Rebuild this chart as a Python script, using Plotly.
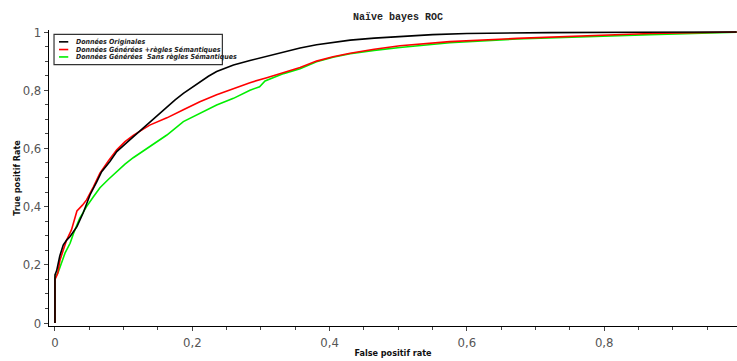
import plotly.graph_objects as go

# ROC curves: false positive rate / true positive rate for each dataset
fpr_orig = [0.0, 0.0, 0.0025, 0.007, 0.012, 0.017, 0.022, 0.032, 0.041, 0.051, 0.061,
            0.068, 0.08, 0.09, 0.109, 0.125, 0.138, 0.15, 0.163, 0.175, 0.187, 0.2,
            0.211, 0.2235, 0.2355, 0.248, 0.26, 0.284, 0.31, 0.3326, 0.357, 0.381,
            0.405, 0.43, 0.465, 0.5025, 0.55, 0.60, 0.66, 0.721, 0.85, 0.993]
tpr_orig = [0.0, 0.165, 0.18, 0.23, 0.268, 0.285, 0.297, 0.331, 0.378, 0.44, 0.486,
            0.52, 0.555, 0.589, 0.629, 0.662, 0.69, 0.716, 0.743, 0.767, 0.789, 0.81,
            0.829, 0.848, 0.864, 0.877, 0.887, 0.902, 0.918, 0.932, 0.945, 0.956,
            0.965, 0.972, 0.979, 0.985, 0.991, 0.995, 0.997, 0.998, 0.999, 1.0]

fpr_regles = [0.0, 0.0, 0.004, 0.0073, 0.012, 0.017, 0.024, 0.028, 0.032, 0.04, 0.046,
              0.056, 0.0655, 0.078, 0.09, 0.102, 0.114, 0.138, 0.163, 0.187, 0.211,
              0.2355, 0.26, 0.284, 0.3085, 0.333, 0.357, 0.381, 0.405, 0.43, 0.465,
              0.5025, 0.575, 0.673, 0.77, 0.867, 0.993]
tpr_regles = [0.0, 0.15, 0.17, 0.216, 0.25, 0.285, 0.32, 0.355, 0.385, 0.405, 0.423,
              0.468, 0.515, 0.558, 0.595, 0.623, 0.645, 0.68, 0.705, 0.733, 0.76,
              0.784, 0.806, 0.826, 0.843, 0.86, 0.878, 0.9, 0.915, 0.927, 0.941,
              0.953, 0.967, 0.978, 0.987, 0.995, 1.0]

fpr_sans = [0.0, 0.0, 0.005, 0.0097, 0.0146, 0.022, 0.027, 0.036, 0.046, 0.056, 0.0655,
            0.078, 0.09, 0.102, 0.114, 0.138, 0.163, 0.187, 0.211, 0.2355, 0.26,
            0.284, 0.298, 0.306, 0.333, 0.357, 0.381, 0.405, 0.43, 0.465, 0.5025,
            0.575, 0.673, 0.77, 0.867, 0.993]
tpr_sans = [0.0, 0.155, 0.176, 0.205, 0.24, 0.274, 0.308, 0.36, 0.40, 0.434, 0.465,
            0.494, 0.52, 0.546, 0.568, 0.606, 0.646, 0.692, 0.72, 0.749, 0.772,
            0.8, 0.812, 0.832, 0.857, 0.874, 0.898, 0.913, 0.925, 0.937, 0.947,
            0.963, 0.976, 0.984, 0.991, 0.999]

series_names = ["Données Originales",
                "Données Générées +règles Sémantiques",
                "Données Générées  Sans règles Sémantiques"]
series_colors = ["#000000", "#ff0000", "#00ee00"]
series_x = [fpr_orig, fpr_regles, fpr_sans]
series_y = [tpr_orig, tpr_regles, tpr_sans]

fig = go.Figure()
# draw so that the original curve sits on top
for name, color, xs, ys in reversed(list(zip(series_names, series_colors, series_x, series_y))):
    fig.add_trace(go.Scatter(x=xs, y=ys, mode="lines", name=name,
                             line=dict(color=color, width=1.6), showlegend=False))

# hand-built legend box with short line samples
shapes = [dict(type="rect", xref="paper", yref="paper",
               x0=0.0073, x1=0.252, y0=0.883, y1=0.985,
               line=dict(color="#333333", width=1.2), fillcolor="white", layer="above")]
annotations = []
row_y = [0.96, 0.934, 0.909]
for name, color, yy in zip(series_names, series_colors, row_y):
    shapes.append(dict(type="line", xref="paper", yref="paper",
                       x0=0.0145, x1=0.028, y0=yy, y1=yy,
                       line=dict(color=color, width=1.6), layer="above"))
    annotations.append(dict(xref="paper", yref="paper", x=0.036, y=yy,
                            text="<b><i>" + name + "</i></b>", showarrow=False,
                            xanchor="left", yanchor="middle",
                            font=dict(family="DejaVu Sans Condensed", size=7, color="#222222")))

fig.update_layout(
    width=737, height=361,
    margin=dict(l=49, r=0, t=30, b=35),
    paper_bgcolor="white", plot_bgcolor="white",
    separators=", ",
    title=dict(text="<b>Naïve bayes ROC</b>", x=0.54, xanchor="center", y=0.955, yanchor="middle",
               font=dict(family="Liberation Mono", size=10, color="#222222")),
    shapes=shapes,
    annotations=annotations,
)

fig.update_xaxes(
    range=[-0.0087, 0.9934], dtick=0.2, tick0=0,
    showgrid=False, zeroline=False,
    showline=True, linecolor="#000000", linewidth=1.2,
    ticks="outside", ticklen=4, tickcolor="#444444",
    minor=dict(dtick=0.05, ticks="outside", ticklen=3, tickcolor="#444444"),
    tickfont=dict(family="DejaVu Sans Condensed", size=13, color="#555555"),
    title=dict(text="<b>False positif rate</b>", standoff=0,
               font=dict(family="DejaVu Sans Condensed", size=9, color="#111111")),
)
fig.update_yaxes(
    range=[-0.0103, 1.0069], dtick=0.2, tick0=0,
    showgrid=False, zeroline=False,
    showline=True, linecolor="#000000", linewidth=1.2,
    ticks="outside", ticklen=4, tickcolor="#444444",
    minor=dict(dtick=0.05, ticks="outside", ticklen=3, tickcolor="#444444"),
    tickfont=dict(family="DejaVu Sans Condensed", size=13, color="#555555"),
    title=dict(text="<b>True positif Rate</b>", standoff=0,
               font=dict(family="DejaVu Sans Condensed", size=9, color="#111111")),
)

fig.write_html("out.html")
